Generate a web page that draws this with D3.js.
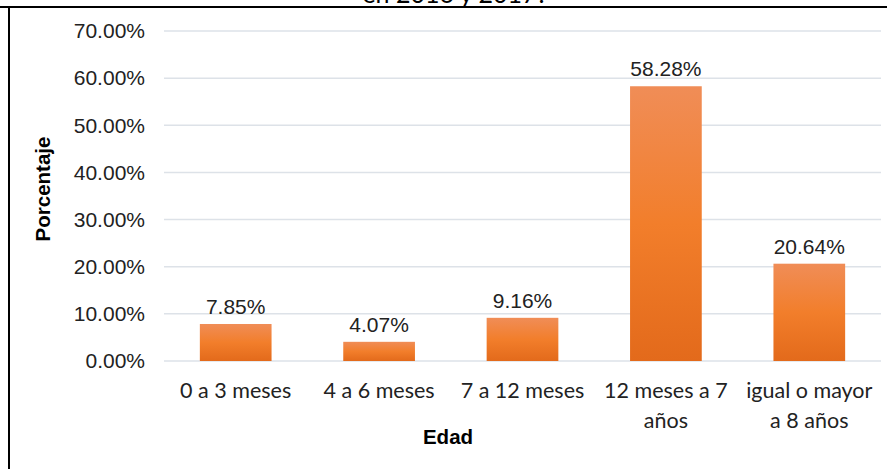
<!DOCTYPE html>
<html>
<head>
<meta charset="utf-8">
<script src="https://cdn.jsdelivr.net/npm/d3@7"></script>
<style>
  body { margin: 0; background: #fff; }
  svg { display: block; }
</style>
</head>
<body>
<div id="chart"></div>
<script>
// categories and values
const categories = [["0 a 3 meses"], ["4 a 6 meses"], ["7 a 12 meses"], ["12 meses a 7", "años"], ["igual o mayor", "a 8 años"]];
const values = [7.85, 4.07, 9.16, 58.28, 20.64];
const yTicks = [0, 10, 20, 30, 40, 50, 60, 70];

function drawChart() {
    const W = 887, H = 469;
    const plot = { left: 164, right: 881, top: 31, bottom: 361 };

    const svg = d3.select("#chart").append("svg")
        .attr("width", W).attr("height", H);

    // gradient for the bars
    const grad = svg.append("defs").append("linearGradient")
        .attr("id", "barGrad").attr("x1", 0).attr("x2", 0).attr("y1", 0).attr("y2", 1);
    grad.append("stop").attr("offset", "0%").attr("stop-color", "#F08D57");
    grad.append("stop").attr("offset", "50%").attr("stop-color", "#F27E2B");
    grad.append("stop").attr("offset", "100%").attr("stop-color", "#E36A1B");

    // title, only its bottom edge shows above the frame
    svg.append("text")
        .attr("x", 455).attr("y", 3)
        .attr("text-anchor", "middle")
        .style("font-family", "Lato, sans-serif").style("font-size", "25px")
        .text("en 2016 y 2017?");

    // frame lines
    svg.append("line").attr("x1", 0).attr("x2", W).attr("y1", 7).attr("y2", 7)
        .attr("stroke", "#000").attr("stroke-width", 2);
    svg.append("line").attr("x1", 9).attr("x2", 9).attr("y1", 7).attr("y2", H)
        .attr("stroke", "#000").attr("stroke-width", 2);

    const x = d3.scaleBand()
        .domain(d3.range(values.length))
        .range([plot.left, plot.right])
        .paddingInner(0.5).paddingOuter(0.25);

    const y = d3.scaleLinear().domain([0, 70]).range([plot.bottom, plot.top]);

    // gridlines
    svg.append("g").selectAll("line").data(yTicks).enter().append("line")
        .attr("x1", plot.left).attr("x2", plot.right)
        .attr("y1", d => y(d)).attr("y2", d => y(d))
        .attr("stroke", "#DDE2E8").attr("stroke-width", 1.5);

    // y tick labels
    svg.append("g").selectAll("text").data(yTicks).enter().append("text")
        .attr("x", 145).attr("y", d => y(d)).attr("dy", "0.35em")
        .attr("text-anchor", "end")
        .style("font-family", "'Liberation Sans', Arial, sans-serif").style("font-size", "21px")
        .attr("fill", "#222")
        .text(d => d3.format(".2f")(d) + "%");

    // bars
    svg.append("g").selectAll("rect").data(values).enter().append("rect")
        .attr("x", (d, i) => x(i))
        .attr("y", d => y(d))
        .attr("width", x.bandwidth())
        .attr("height", d => y(0) - y(d))
        .attr("fill", "url(#barGrad)");

    // value labels
    svg.append("g").selectAll("text").data(values).enter().append("text")
        .attr("x", (d, i) => x(i) + x.bandwidth() / 2)
        .attr("y", d => y(d) - 10)
        .attr("text-anchor", "middle")
        .style("font-family", "'Liberation Sans', Arial, sans-serif").style("font-size", "21px")
        .attr("fill", "#222")
        .text(d => d3.format(".2f")(d) + "%");

    // category labels
    const cat = svg.append("g").selectAll("text").data(categories).enter().append("text")
        .attr("text-anchor", "middle")
        .style("font-family", "Lato, sans-serif").style("font-size", "21.5px")
        .attr("fill", "#222");
    cat.each(function (lines, i) {
        d3.select(this).selectAll("tspan").data(lines).enter().append("tspan")
            .attr("x", x(i) + x.bandwidth() / 2)
            .attr("y", (l, j) => 398 + j * 30)
            .text(l => l);
    });

    // axis titles
    svg.append("text")
        .attr("x", 448).attr("y", 444)
        .attr("text-anchor", "middle")
        .style("font-family", "'Liberation Sans', Arial, sans-serif").style("font-size", "20.5px")
        .style("font-weight", "bold")
        .text("Edad");

    svg.append("text")
        .attr("transform", "translate(50,189) rotate(-90)")
        .attr("text-anchor", "middle")
        .style("font-family", "'Liberation Sans', Arial, sans-serif").style("font-size", "20.5px")
        .style("font-weight", "bold")
        .text("Porcentaje");
}

document.addEventListener("DOMContentLoaded", drawChart);
</script>
</body>
</html>
